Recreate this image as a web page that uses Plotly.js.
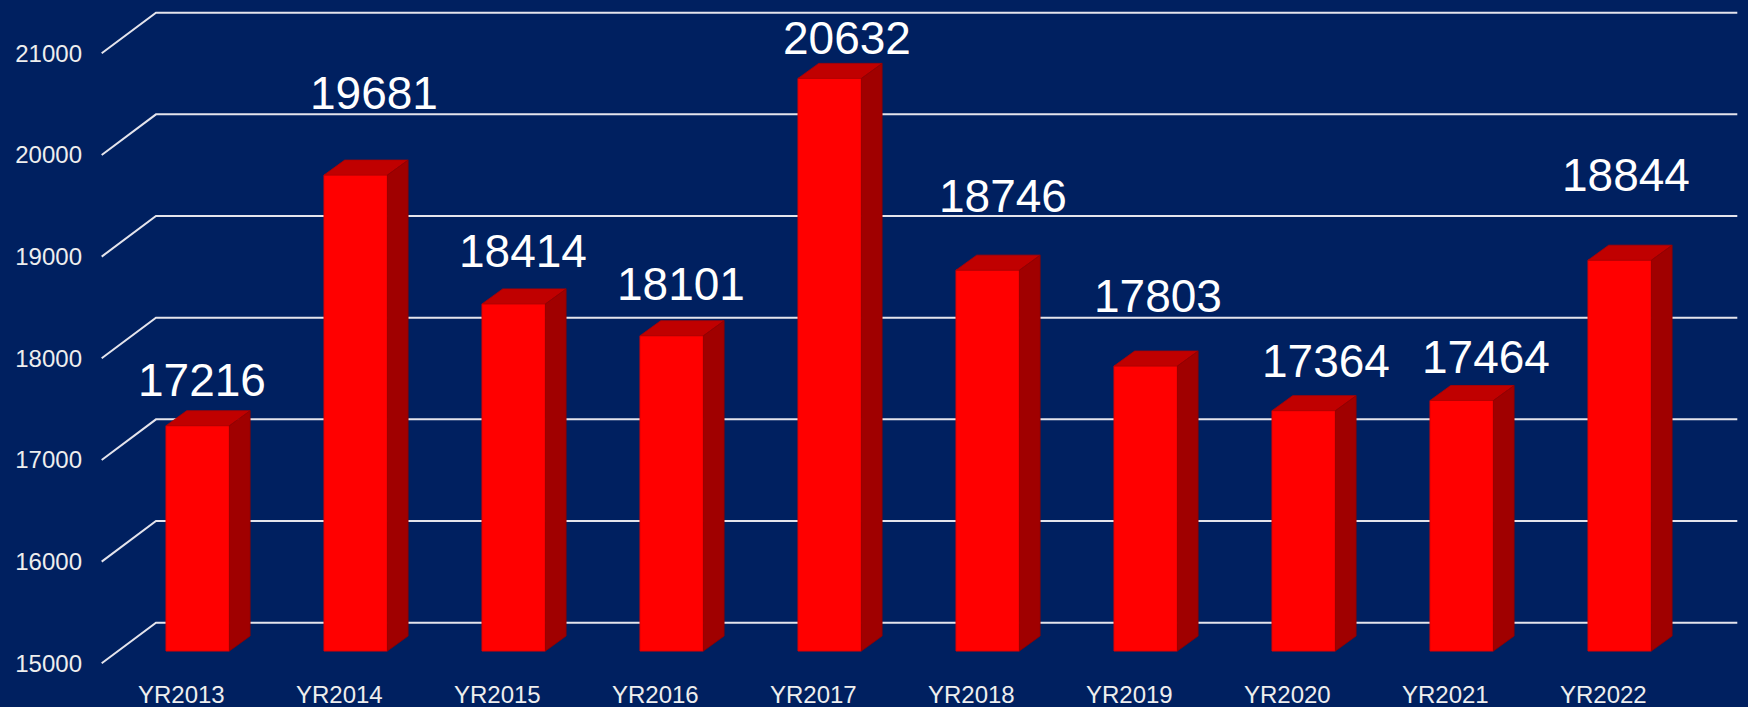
<!DOCTYPE html>
<html>
<head>
<meta charset="utf-8">
<script src="https://cdn.plot.ly/plotly-3.0.1.min.js"></script>
<style>
  html, body { margin: 0; padding: 0; background: #002060; }
  #chart { width: 1748px; height: 707px; }
</style>
</head>
<body>
<div id="chart"></div>
<script>
// ---- data ----
const categories = ['YR2013', 'YR2014', 'YR2015', 'YR2016', 'YR2017', 'YR2018', 'YR2019', 'YR2020', 'YR2021', 'YR2022'];
const values = [17216, 19681, 18414, 18101, 20632, 18746, 17803, 17364, 17464, 18844];
const yTicks = [15000, 16000, 17000, 18000, 19000, 20000, 21000];
const BASE = 15000;

// ---- label placement nudges (pixels, relative to bar top) ----
const labelDX = [4.5, 18.1, 8.8, 9.1, 17, 15, 12.6, 21.8, 23.8, 6.1];
const labelDY = [45.8, 82.4, 52.4, 51.5, 40.4, 74.3, 70.2, 49.2, 43.3, 85];

// ---- layout geometry ----
const W = 1748, H = 707;
const M = { l: 100, r: 0, t: 0, b: 37 };
const PX_PER_CAT = 158;          // pixels per category
const CAT0_PX = 197.7;           // pixel x of first category (bar front centre)
const PX_PER_UNIT = 0.10167;     // pixels per value unit
const BASE_PX = 651;             // pixel y of BASE on bar front plane
const ux = p => p / PX_PER_CAT;
const uy = p => p / PX_PER_UNIT;

const xRange = [(M.l - CAT0_PX) / PX_PER_CAT, (W - M.r - CAT0_PX) / PX_PER_CAT];
const plotBottom = H - M.b;
const yRange = [BASE - uy(plotBottom - BASE_PX), BASE + uy(BASE_PX - M.t)];

const hw = ux(31.7);     // half bar width
const ddx = ux(20.7);    // bar depth, x
const ddy = uy(15);      // bar depth, y

// front axis / back wall offsets for the perspective grid
const frontShiftX = ux(16.4), frontShiftY = uy(12.3);
const xFront = (101.7 - CAT0_PX) / PX_PER_CAT;
const xBack = (156 - CAT0_PX) / PX_PER_CAT;
const xRight = (1737.3 - CAT0_PX) / PX_PER_CAT;
const backShiftY = uy(28.3);

const idx = categories.map((_, i) => i);

const shapes = [];
// perspective gridlines
yTicks.forEach(v => {
  shapes.push({
    type: 'path', xref: 'x', yref: 'y', layer: 'below',
    path: `M ${xFront},${v - frontShiftY} L ${xBack},${v + backShiftY} L ${xRight},${v + backShiftY}`,
    line: { color: '#e4e4ec', width: 2 }
  });
});
// 3D faces of bars
values.forEach((v, i) => {
  const L = i - hw, R = i + hw;
  // top face
  shapes.push({
    type: 'path', xref: 'x', yref: 'y', layer: 'above',
    path: `M ${L},${v} L ${R},${v} L ${R + ddx},${v + ddy} L ${L + ddx},${v + ddy} Z`,
    fillcolor: '#C00000', line: { color: '#B00000', width: 0.8 }
  });
  // side face
  shapes.push({
    type: 'path', xref: 'x', yref: 'y', layer: 'above',
    path: `M ${R},${BASE} L ${R},${v} L ${R + ddx},${v + ddy} L ${R + ddx},${BASE + ddy} Z`,
    fillcolor: '#A00000', line: { color: '#900000', width: 0.8 }
  });
});

const annotations = values.map((v, i) => ({
  x: i, y: v, xref: 'x', yref: 'y',
  text: String(v), showarrow: false,
  xanchor: 'center', yanchor: 'middle',
  xshift: labelDX[i], yshift: labelDY[i],
  font: { family: 'Liberation Sans, Arial, sans-serif', size: 46, color: '#ffffff' }
}));

const traces = [
  {
    type: 'bar', x: idx, y: values.map(v => v - BASE), base: BASE,
    width: 2 * hw, xaxis: 'x', yaxis: 'y',
    marker: { color: '#FF0000', line: { color: '#E00000', width: 1 } },
    hoverinfo: 'skip', showlegend: false
  },
  { type: 'scatter', x: [], y: [], xaxis: 'x2', yaxis: 'y2', hoverinfo: 'skip', showlegend: false }
];

const tickFont = { family: 'Liberation Sans, Arial, sans-serif', size: 24, color: '#eeeeee' };

const layout = {
  width: W, height: H, autosize: false,
  margin: M,
  paper_bgcolor: '#002060', plot_bgcolor: '#002060',
  showlegend: false,
  xaxis: { range: xRange, visible: false, fixedrange: true },
  yaxis: { range: yRange, visible: false, fixedrange: true },
  xaxis2: {
    overlaying: 'x', anchor: 'y', side: 'bottom',
    range: [xRange[0] + frontShiftX, xRange[1] + frontShiftX],
    tickmode: 'array', tickvals: idx, ticktext: categories,
    showgrid: false, zeroline: false, showline: false, ticks: '',
    ticklabelstandoff: 8, tickfont: tickFont
  },
  yaxis2: {
    overlaying: 'y', anchor: 'x', side: 'left',
    range: [yRange[0] + frontShiftY, yRange[1] + frontShiftY],
    tickmode: 'array', tickvals: yTicks, ticktext: yTicks.map(String),
    showgrid: false, zeroline: false, showline: false, ticks: '',
    ticklabelstandoff: 17, tickfont: tickFont
  },
  shapes: shapes,
  annotations: annotations
};

Plotly.newPlot('chart', traces, layout, { staticPlot: true, displayModeBar: false });
</script>
</body>
</html>
